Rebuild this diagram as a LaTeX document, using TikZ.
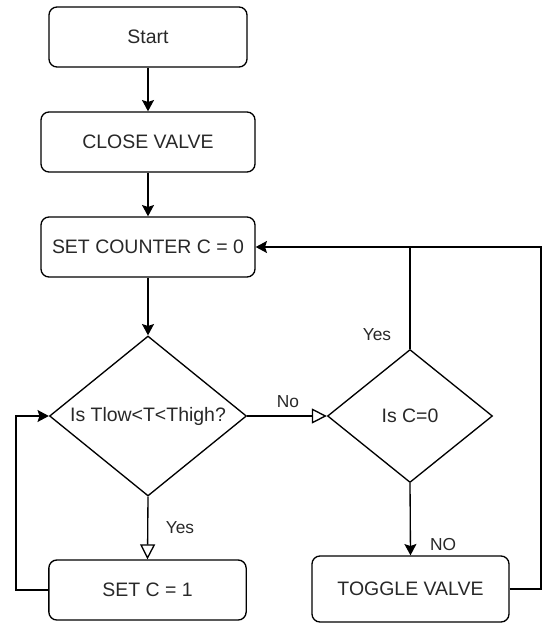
\documentclass[tikz,border=0pt]{standalone}
\usepackage{fontspec}
\setmainfont{Liberation Sans}
\usetikzlibrary{arrows.meta,shapes.geometric}
\definecolor{txt}{RGB}{40,40,40}
\begin{document}
\begin{tikzpicture}[x=0.75pt,y=-0.75pt,
  every node/.style={font=\fontsize{14.6pt}{17pt}\selectfont, text=txt},
  proc/.style={draw=black, line width=1pt, rounded corners=6pt, inner sep=0pt},
  dec/.style={draw=black, line width=1pt, shape=diamond, inner sep=0pt, aspect=1.2},
  lbl/.style={font=\fontsize{13pt}{15pt}\selectfont, text=txt},
  conn/.style={line width=1pt, draw=black},
  fa/.style={conn, -{Stealth[length=8.5pt,width=9pt,inset=1.5pt]}},
  oa/.style={conn, -{Triangle[open,length=9pt,width=9pt,fill=white,scale=1.25]}}]
\useasboundingbox (0,0) rectangle (542,624);
\node[proc, minimum width=148.5pt, minimum height=45pt] (start) at (148,37) {Start};
\node[proc, minimum width=160.5pt, minimum height=45pt] (close) at (148,142) {CLOSE VALVE};
\node[proc, minimum width=160.5pt, minimum height=45pt] (counter) at (148,247) {SET COUNTER C = 0};
\node[dec, minimum width=147.75pt, minimum height=120pt] (d1) at (148,416) {\makebox[0pt]{Is Tlow<T<Thigh?}};
\node[dec, minimum width=123.75pt, minimum height=99.75pt] (d2) at (410,416) {\makebox[0pt]{Is C=0}};
\node[proc, minimum width=148pt, minimum height=45pt] (setc) at (147.5,590) {SET C = 1};
\node[proc, minimum width=147.75pt, minimum height=49.5pt] (toggle) at (410.5,589) {TOGGLE VALVE};
\coordinate (jn) at (410,247);
\coordinate (rc) at (541,247);
\coordinate (lc) at (16,416);
\draw[fa] (start) -- (close);
\draw[fa] (close) -- (counter);
\draw[fa] (counter) -- (d1);
\draw[oa] (d1.south) -- (setc.north);
\draw[oa] (d1.east) -- (d2.west);
\draw[fa] (d2.south) -- (toggle.north);
\draw[conn] (d2.north) -- (jn);
\draw[fa] (toggle.east) -| (rc) -- (counter.east);
\draw[fa] (setc.west) -| (lc) -- (d1.west);
\node[lbl] (yes1) at (180,528) {Yes};
\node[lbl] (no1) at (288,402) {No};
\node[lbl] (yes2) at (377,335) {Yes};
\node[lbl] (no2) at (443,545) {NO};
\end{tikzpicture}
\end{document}
